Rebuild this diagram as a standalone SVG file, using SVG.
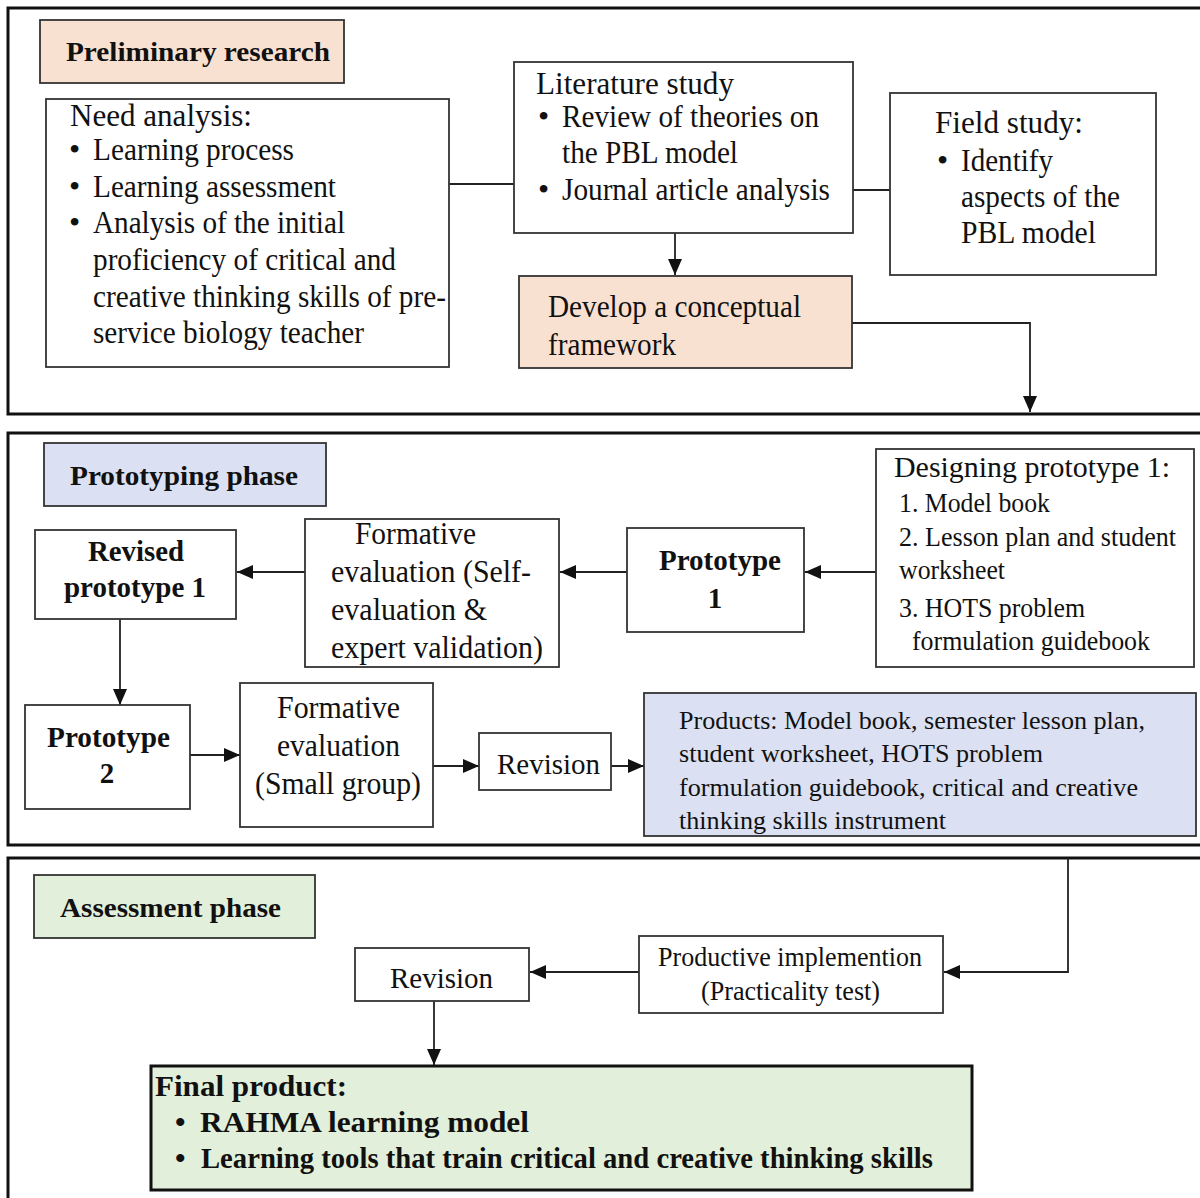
<svg xmlns="http://www.w3.org/2000/svg" width="1200" height="1198" viewBox="0 0 1200 1198">
<style>
.panel{fill:#fff;stroke:#111;stroke-width:3}
.box{fill:#fff;stroke:#333;stroke-width:1.8}
.peach{fill:#f9e1d2;stroke:#333;stroke-width:1.8}
.blue{fill:#dbe1f2;stroke:#333;stroke-width:1.8}
.green{fill:#e2efda;stroke:#333;stroke-width:1.8}
.fin{fill:#e2efda;stroke:#111;stroke-width:3}
text{font-family:'Liberation Serif','Times New Roman',Tinos,Times,serif;fill:#111}
.t32{font-size:32px}
.t31{font-size:31px}
.t30{font-size:30px}
.t29{font-size:29px}
.t28{font-size:28px}
.t27{font-size:27px}
.t26{font-size:26px}
.b{font-weight:bold}
.ln{fill:none;stroke:#222;stroke-width:1.8}
</style>
<defs>
<marker id="arr" viewBox="0 0 16 14" refX="16" refY="7" markerWidth="16" markerHeight="14" markerUnits="userSpaceOnUse" orient="auto">
<path d="M0,0 L16,7 L0,14 z" fill="#111"/>
</marker>
</defs>
<rect width="1200" height="1198" fill="#fff"/>
<rect class="panel" x="8" y="8" width="1210" height="406"/>
<rect class="panel" x="8" y="433" width="1210" height="412"/>
<rect class="panel" x="8" y="858" width="1210" height="380"/>

<g id="connectors">
<line class="ln" x1="449" y1="184" x2="514" y2="184"/>
<line class="ln" x1="853" y1="190" x2="890" y2="190"/>
<line class="ln" x1="675" y1="233" x2="675" y2="275" marker-end="url(#arr)"/>
<polyline class="ln" points="852,323 1030,323 1030,412" marker-end="url(#arr)"/>
<line class="ln" x1="876" y1="572" x2="805" y2="572" marker-end="url(#arr)"/>
<line class="ln" x1="627" y1="572" x2="560" y2="572" marker-end="url(#arr)"/>
<line class="ln" x1="305" y1="572" x2="237" y2="572" marker-end="url(#arr)"/>
<line class="ln" x1="120" y1="619" x2="120" y2="705" marker-end="url(#arr)"/>
<line class="ln" x1="190" y1="755" x2="240" y2="755" marker-end="url(#arr)"/>
<line class="ln" x1="433" y1="766" x2="479" y2="766" marker-end="url(#arr)"/>
<line class="ln" x1="611" y1="766" x2="644" y2="766" marker-end="url(#arr)"/>
<polyline class="ln" points="1068,858 1068,972 944,972" marker-end="url(#arr)"/>
<line class="ln" x1="639" y1="972" x2="530" y2="972" marker-end="url(#arr)"/>
<line class="ln" x1="434" y1="1001" x2="434" y2="1065" marker-end="url(#arr)"/>
</g>

<g id="preliminary-label">
<rect class="peach" x="40" y="20" width="304" height="63"/>
<text class="t28 b" x="66" y="61" textLength="264" lengthAdjust="spacingAndGlyphs">Preliminary research</text>
</g>

<g id="need-analysis">
<rect class="box" x="46" y="99" width="403" height="268"/>
<text class="t32" x="70" y="126" textLength="182" lengthAdjust="spacingAndGlyphs">Need analysis:</text>
<text class="t32" x="69" y="160">•</text>
<text class="t32" x="93" y="160" textLength="201" lengthAdjust="spacingAndGlyphs">Learning process</text>
<text class="t32" x="69" y="197">•</text>
<text class="t32" x="93" y="197" textLength="243" lengthAdjust="spacingAndGlyphs">Learning assessment</text>
<text class="t32" x="69" y="233">•</text>
<text class="t32" x="93" y="233" textLength="252" lengthAdjust="spacingAndGlyphs">Analysis of the initial</text>
<text class="t32" x="93" y="270" textLength="303" lengthAdjust="spacingAndGlyphs">proficiency of critical and</text>
<text class="t32" x="93" y="307" textLength="353" lengthAdjust="spacingAndGlyphs">creative thinking skills of pre-</text>
<text class="t32" x="93" y="343" textLength="271" lengthAdjust="spacingAndGlyphs">service biology teacher</text>
</g>

<g id="literature-study">
<rect class="box" x="514" y="62" width="339" height="171"/>
<text class="t32" x="536" y="94" textLength="198" lengthAdjust="spacingAndGlyphs">Literature study</text>
<text class="t32" x="538" y="127">•</text>
<text class="t32" x="562" y="127" textLength="257" lengthAdjust="spacingAndGlyphs">Review of theories on</text>
<text class="t32" x="562" y="163" textLength="176" lengthAdjust="spacingAndGlyphs">the PBL model</text>
<text class="t32" x="538" y="200">•</text>
<text class="t32" x="562" y="200" textLength="268" lengthAdjust="spacingAndGlyphs">Journal article analysis</text>
</g>

<g id="field-study">
<rect class="box" x="890" y="93" width="266" height="182"/>
<text class="t32" x="935" y="133" textLength="148" lengthAdjust="spacingAndGlyphs">Field study:</text>
<text class="t32" x="937" y="171">•</text>
<text class="t32" x="961" y="171" textLength="92" lengthAdjust="spacingAndGlyphs">Identify</text>
<text class="t32" x="961" y="207" textLength="159" lengthAdjust="spacingAndGlyphs">aspects of the</text>
<text class="t32" x="961" y="243" textLength="135" lengthAdjust="spacingAndGlyphs">PBL model</text>
</g>

<g id="conceptual-framework">
<rect class="peach" x="519" y="276" width="333" height="92"/>
<text class="t32" x="548" y="317" textLength="253" lengthAdjust="spacingAndGlyphs">Develop a conceptual</text>
<text class="t32" x="548" y="355" textLength="128" lengthAdjust="spacingAndGlyphs">framework</text>
</g>

<g id="prototyping-label">
<rect class="blue" x="44" y="443" width="282" height="63"/>
<text class="t28 b" x="70" y="485" textLength="228" lengthAdjust="spacingAndGlyphs">Prototyping phase</text>
</g>

<g id="revised-prototype-1">
<rect class="box" x="35" y="530" width="201" height="89"/>
<text class="t29 b" x="88" y="561" textLength="96" lengthAdjust="spacingAndGlyphs">Revised</text>
<text class="t29 b" x="64" y="597" textLength="142" lengthAdjust="spacingAndGlyphs">prototype 1</text>
</g>

<g id="formative-self">
<rect class="box" x="305" y="519" width="254" height="148"/>
<text class="t31" x="355" y="544" textLength="121" lengthAdjust="spacingAndGlyphs">Formative</text>
<text class="t31" x="331" y="582" textLength="200" lengthAdjust="spacingAndGlyphs">evaluation (Self-</text>
<text class="t31" x="331" y="620" textLength="156" lengthAdjust="spacingAndGlyphs">evaluation &amp;</text>
<text class="t31" x="331" y="658" textLength="212" lengthAdjust="spacingAndGlyphs">expert validation)</text>
</g>

<g id="prototype-1">
<rect class="box" x="627" y="528" width="177" height="104"/>
<text class="t29 b" x="659" y="570" textLength="122" lengthAdjust="spacingAndGlyphs">Prototype</text>
<text class="t29 b" x="715" y="608" text-anchor="middle">1</text>
</g>

<g id="designing-prototype-1">
<rect class="box" x="876" y="449" width="318" height="218"/>
<text class="t30" x="894" y="477" textLength="276" lengthAdjust="spacingAndGlyphs">Designing prototype 1:</text>
<text class="t27" x="899" y="512" textLength="151" lengthAdjust="spacingAndGlyphs">1. Model book</text>
<text class="t27" x="899" y="546" textLength="277" lengthAdjust="spacingAndGlyphs">2. Lesson plan and student</text>
<text class="t27" x="899" y="579" textLength="106" lengthAdjust="spacingAndGlyphs">worksheet</text>
<text class="t27" x="899" y="617" textLength="186" lengthAdjust="spacingAndGlyphs">3. HOTS problem</text>
<text class="t27" x="912" y="650" textLength="238" lengthAdjust="spacingAndGlyphs">formulation guidebook</text>
</g>

<g id="prototype-2">
<rect class="box" x="25" y="705" width="165" height="104"/>
<text class="t29 b" x="47" y="747" textLength="123" lengthAdjust="spacingAndGlyphs">Prototype</text>
<text class="t29 b" x="107" y="783" text-anchor="middle">2</text>
</g>

<g id="formative-small-group">
<rect class="box" x="240" y="683" width="193" height="144"/>
<text class="t31" x="277" y="718" textLength="123" lengthAdjust="spacingAndGlyphs">Formative</text>
<text class="t31" x="277" y="756" textLength="123" lengthAdjust="spacingAndGlyphs">evaluation</text>
<text class="t31" x="255" y="794" textLength="166" lengthAdjust="spacingAndGlyphs">(Small group)</text>
</g>

<g id="revision-1">
<rect class="box" x="479" y="733" width="132" height="57"/>
<text class="t29" x="497" y="774" textLength="103" lengthAdjust="spacingAndGlyphs">Revision</text>
</g>

<g id="products">
<rect class="blue" x="644" y="693" width="552" height="143"/>
<text class="t26" x="679" y="729" textLength="466" lengthAdjust="spacingAndGlyphs">Products: Model book, semester lesson plan,</text>
<text class="t26" x="679" y="762" textLength="364" lengthAdjust="spacingAndGlyphs">student worksheet, HOTS problem</text>
<text class="t26" x="679" y="796" textLength="459" lengthAdjust="spacingAndGlyphs">formulation guidebook, critical and creative</text>
<text class="t26" x="679" y="829" textLength="267" lengthAdjust="spacingAndGlyphs">thinking skills instrument</text>
</g>

<g id="assessment-label">
<rect class="green" x="34" y="875" width="281" height="63"/>
<text class="t28 b" x="60" y="917" textLength="221" lengthAdjust="spacingAndGlyphs">Assessment phase</text>
</g>

<g id="productive-implementation">
<rect class="box" x="639" y="936" width="304" height="77"/>
<text class="t27" x="658" y="966" textLength="264" lengthAdjust="spacingAndGlyphs">Productive implemention</text>
<text class="t27" x="701" y="1000" textLength="179" lengthAdjust="spacingAndGlyphs">(Practicality test)</text>
</g>

<g id="revision-2">
<rect class="box" x="355" y="948" width="174" height="53"/>
<text class="t29" x="390" y="988" textLength="103" lengthAdjust="spacingAndGlyphs">Revision</text>
</g>

<g id="final-product">
<rect class="fin" x="151" y="1066" width="821" height="124"/>
<text class="t30 b" x="155" y="1096" textLength="192" lengthAdjust="spacingAndGlyphs">Final product:</text>
<text class="t30 b" x="175" y="1132">•</text>
<text class="t30 b" x="200" y="1132" textLength="329" lengthAdjust="spacingAndGlyphs">RAHMA learning model</text>
<text class="t30 b" x="175" y="1168">•</text>
<text class="t30 b" x="201" y="1168" textLength="732" lengthAdjust="spacingAndGlyphs">Learning tools that train critical and creative thinking skills</text>
</g>
</svg>
